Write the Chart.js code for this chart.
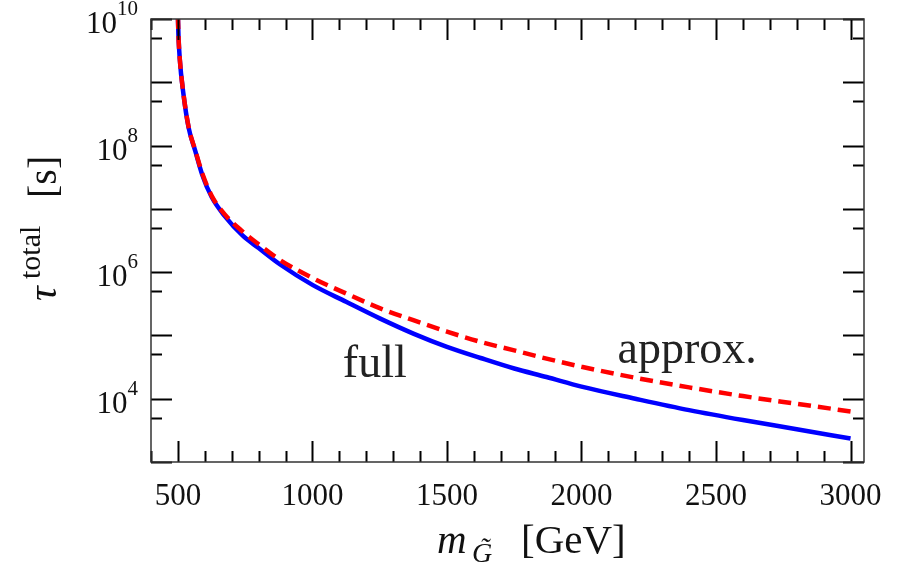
<!DOCTYPE html>
<html>
<head>
<meta charset="utf-8">
<script src="https://cdn.jsdelivr.net/npm/chart.js@4"></script>
<style>
  body { margin: 0; background: #fff; }
</style>
</head>
<body>
<canvas id="tauChart" width="899" height="567"></canvas>
<script>
// gravitino mass [GeV]
const mass = [500, 502, 507, 520, 540, 565, 590, 625, 675, 740, 800, 880, 1000, 1125, 1250, 1375, 1500, 1625, 1750, 1870, 2000, 2200, 2400, 2600, 2800, 3000];
// total lifetime [s], full calculation (blue solid)
const tauFull = [1.12e10, 5.6e9, 2.3e9, 6.8e8, 1.9e8, 8.1e7, 3.5e7, 1.55e7, 7.6e6, 3.8e6, 2.4e6, 1.32e6, 6.3e5, 3.4e5, 1.86e5, 1.07e5, 6.6e4, 4.4e4, 3.0e4, 2.2e4, 1.55e4, 1.0e4, 6.6e3, 4.6e3, 3.3e3, 2.35e3];
// total lifetime [s], approximation (red dashed)
const tauApprox = [1.12e10, 5.6e9, 2.35e9, 6.9e8, 1.95e8, 8.3e7, 3.7e7, 1.62e7, 8.1e6, 4.4e6, 2.75e6, 1.55e6, 8.1e5, 4.6e5, 2.7e5, 1.74e5, 1.15e5, 7.9e4, 5.8e4, 4.3e4, 3.2e4, 2.14e4, 1.51e4, 1.1e4, 8.3e3, 6.3e3];

const xMajorTicks = [500, 1000, 1500, 2000, 2500, 3000];
const xMinorStep = 100;
const yDecades = [3, 4, 5, 6, 7, 8, 9, 10];
const yLabelExps = [4, 6, 8, 10];

const SERIF = "'Liberation Serif', 'DejaVu Serif', serif";

function toPoints(xs, ys) {
  return xs.map((x, i) => ({ x: x, y: ys[i] }));
}

// frame, inward ticks, tick labels, titles and curve labels
const framePlugin = {
  id: 'frame',
  afterDraw(chart) {
    const ctx = chart.ctx;
    const a = chart.chartArea;
    const xs = chart.scales.x;
    const ys = chart.scales.y;
    const major = 21, minor = 11;

    ctx.save();
    ctx.strokeStyle = '#000';
    ctx.lineWidth = 2;
    ctx.beginPath();
    // x ticks, bottom and top
    for (let v = 400; v <= 3050; v += xMinorStep) {
      if (v < xs.min || v > xs.max) continue;
      const px = Math.round(xs.getPixelForValue(v)) + 0.5;
      const len = (v % 500 === 0) ? major : minor;
      ctx.moveTo(px, a.bottom); ctx.lineTo(px, a.bottom - len);
      ctx.moveTo(px, a.top); ctx.lineTo(px, a.top + len);
    }
    // y ticks, left and right
    yDecades.forEach(e => {
      [Math.pow(10, e), 5 * Math.pow(10, e)].forEach((v, k) => {
        if (v < ys.min || v > ys.max) return;
        const py = Math.round(ys.getPixelForValue(v)) + 0.5;
        const len = k === 0 ? major : minor;
        ctx.moveTo(a.left, py); ctx.lineTo(a.left + len, py);
        ctx.moveTo(a.right, py); ctx.lineTo(a.right - len, py);
      });
    });
    ctx.stroke();

    // frame
    ctx.strokeStyle = '#333';
    ctx.lineWidth = 1.5;
    ctx.strokeRect(a.left, a.top, a.right - a.left, a.bottom - a.top);

    ctx.fillStyle = '#111';
    // x tick labels
    ctx.font = '31px ' + SERIF;
    ctx.textAlign = 'center';
    ctx.textBaseline = 'alphabetic';
    xMajorTicks.forEach(v => {
      ctx.fillText(String(v), xs.getPixelForValue(v), 505);
    });

    // y tick labels 10^n
    yLabelExps.forEach(e => {
      const py = ys.getPixelForValue(Math.pow(10, e));
      const exp = String(e);
      ctx.font = '21px ' + SERIF;
      const wExp = ctx.measureText(exp).width;
      ctx.textAlign = 'right';
      ctx.fillText(exp, 138, py - 4);
      ctx.font = '31px ' + SERIF;
      ctx.fillText('10', 138 - wExp, py + 14);
    });

    // x title: m_G~ [GeV]
    ctx.textAlign = 'left';
    ctx.font = 'italic 41px ' + SERIF;
    ctx.fillText('m', 437, 553);
    ctx.font = 'italic 28px ' + SERIF;
    ctx.fillText('G\u0303', 472, 562);
    ctx.font = '41px ' + SERIF;
    ctx.fillText('[GeV]', 521, 553);

    // y title: tau^total [s], rotated
    ctx.save();
    ctx.translate(56, 301);
    ctx.rotate(-Math.PI / 2);
    ctx.textAlign = 'left';
    ctx.font = 'italic 41px ' + SERIF;
    ctx.fillText('\u03C4', 0, 0);
    ctx.font = '30px ' + SERIF;
    ctx.fillText('total', 22, -16);
    ctx.font = '40px ' + SERIF;
    ctx.fillText('[s]', 103, 0);
    ctx.restore();

    // curve labels
    ctx.font = '46px ' + SERIF;
    ctx.fillStyle = '#222';
    ctx.textAlign = 'left';
    ctx.fillText('full', xs.getPixelForValue(1113), ys.getPixelForValue(2.2e4));
    ctx.fillText('approx.', xs.getPixelForValue(2134), ys.getPixelForValue(3.65e4));
    ctx.restore();
  }
};

new Chart(document.getElementById('tauChart'), {
  type: 'line',
  data: {
    datasets: [
      {
        label: 'approx.',
        data: toPoints(mass, tauApprox),
        borderColor: '#ff0000',
        borderWidth: 4.5,
        borderDash: [13, 7],
        pointRadius: 0,
        cubicInterpolationMode: 'monotone',
        clip: 0
      },
      {
        label: 'full',
        data: toPoints(mass, tauFull),
        borderColor: '#0000ff',
        borderWidth: 4.5,
        pointRadius: 0,
        cubicInterpolationMode: 'monotone',
        clip: 0
      }
    ]
  },
  options: {
    responsive: false,
    devicePixelRatio: 1,
    animation: false,
    layout: { padding: { left: 151, right: 35, top: 19, bottom: 105 } },
    plugins: { legend: { display: false }, tooltip: { enabled: false } },
    scales: {
      x: { type: 'linear', min: 400, max: 3050, display: false },
      y: { type: 'logarithmic', min: 1e3, max: 1e10, display: false }
    }
  },
  plugins: [framePlugin]
});
</script>
</body>
</html>
